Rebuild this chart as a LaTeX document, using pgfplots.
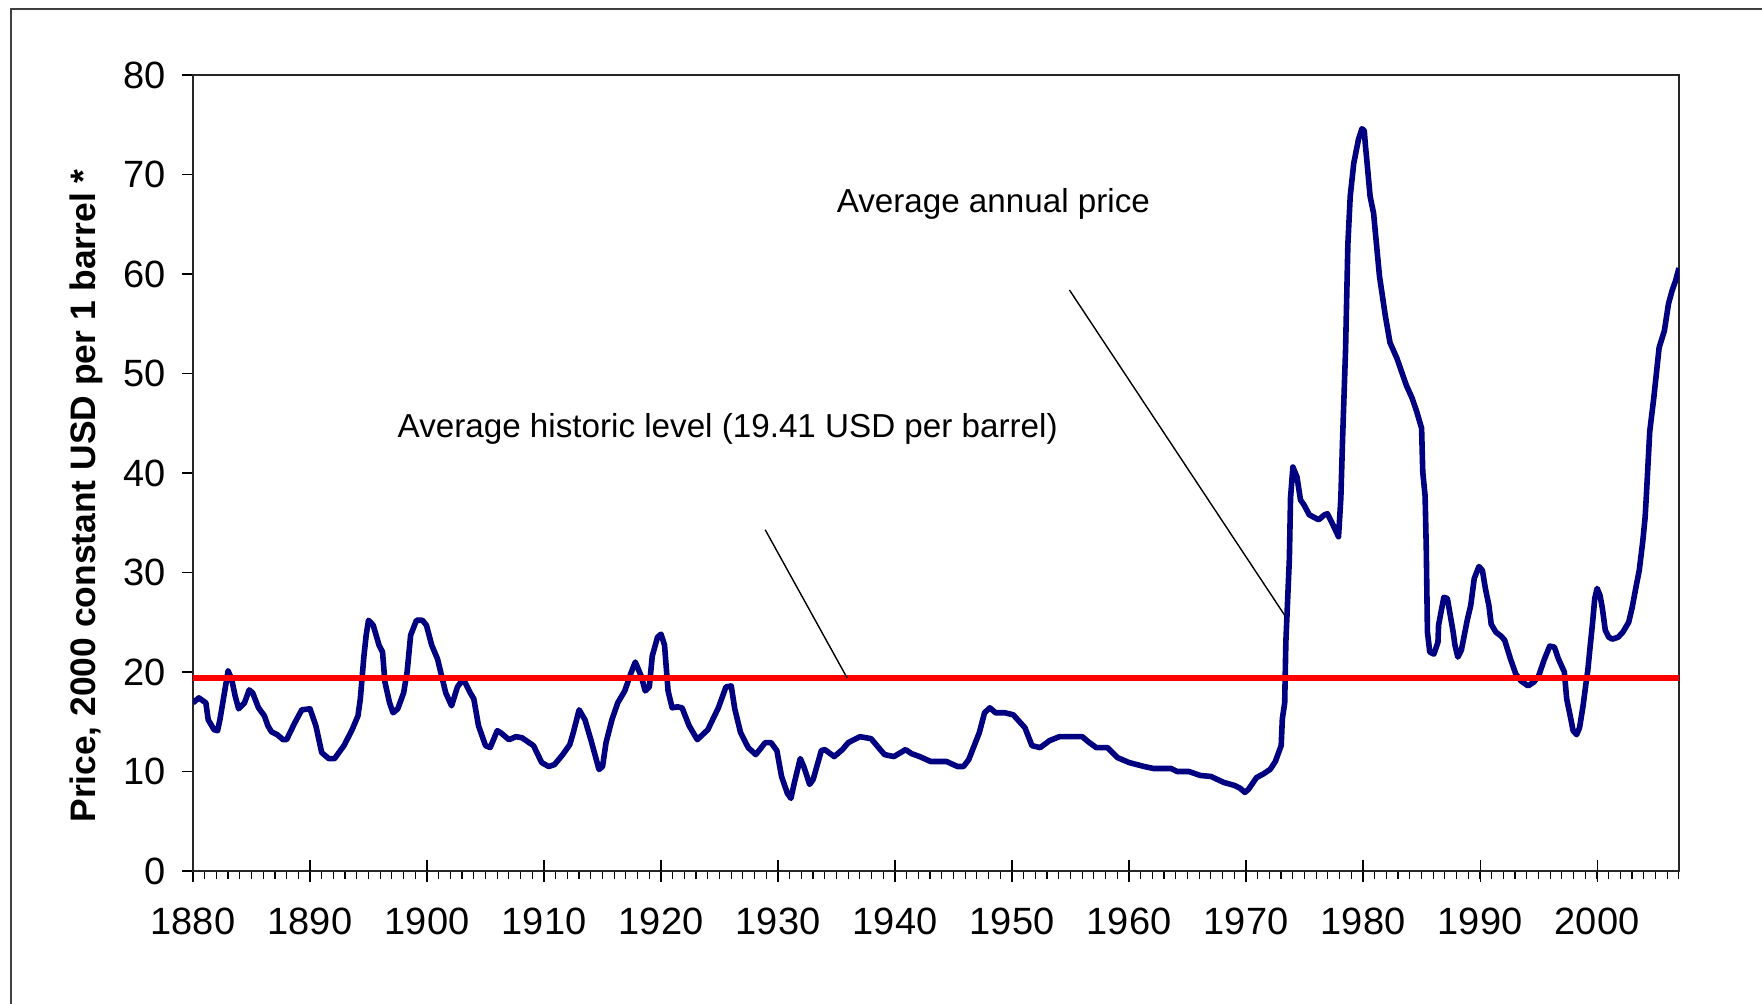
\documentclass[border=0pt]{standalone}
\usepackage{pgfplots}
\pgfplotsset{compat=1.18}
\usepackage{fontspec}
\setmainfont{Liberation Sans}
\definecolor{navyline}{RGB}{0,0,128}
\begin{document}
\begin{tikzpicture}
\useasboundingbox (0pt,0pt) rectangle (881pt,-502pt);
\draw[line width=1pt, black!75] (5.5pt,-505pt) -- (5.5pt,-4.5pt) -- (885pt,-4.5pt);
\begin{axis}[
  at={(96.5pt,-435.5pt)}, anchor=south west,
  width=743pt, height=398pt, scale only axis,
  xmin=1880, xmax=2007, ymin=0, ymax=80,
  xtick={1880,1890,...,2000},
  minor xtick={1881,1882,...,2007},
  ytick={0,10,...,80},
  xtick pos=bottom, ytick pos=left,
  tick align=outside,
  major tick length=5.5pt, minor tick length=4pt,
  extra x ticks={1890,1900,...,2000},
  extra x tick labels={},
  extra x tick style={tick align=inside, major tick length=5.5pt},
  tick style={black, line width=0.6pt},
  axis line style={black!85, line width=0.6pt},
  /pgf/number format/assume math mode=true,
  xticklabel={\pgfmathprintnumber[1000 sep={}]{\tick}},
  ticklabel style={font=\fontsize{19}{22}\selectfont},
  xticklabel style={yshift=-9.5pt},
  yticklabel style={xshift=-4.5pt},
]
\addplot[navyline, line width=2.8pt, line join=round] table {
x y
1880.0 16.9
1880.5 17.4
1881.1 16.9
1881.3 15.2
1881.8 14.2
1882.1 14.1
1882.3 15.2
1882.6 17.3
1883.0 20.1
1883.3 19.3
1883.6 17.6
1883.9 16.3
1884.4 16.9
1884.8 18.2
1885.1 17.9
1885.6 16.4
1886.1 15.6
1886.4 14.6
1886.7 14.0
1887.2 13.7
1887.7 13.2
1888.0 13.2
1888.7 14.9
1889.3 16.2
1890.0 16.3
1890.5 14.6
1891.0 11.9
1891.6 11.3
1892.1 11.3
1892.9 12.6
1893.6 14.2
1894.1 15.6
1894.3 17.3
1894.6 21.5
1894.8 23.7
1895.0 25.2
1895.4 24.7
1895.9 22.7
1896.2 22.0
1896.4 19.0
1896.8 16.9
1897.1 15.9
1897.5 16.3
1898.0 17.9
1898.3 20.0
1898.6 23.7
1899.1 25.2
1899.6 25.2
1899.95 24.7
1900.4 22.7
1900.9 21.3
1901.6 17.9
1902.1 16.6
1902.6 18.5
1903.1 19.3
1903.7 17.9
1904.0 17.3
1904.4 14.6
1905.0 12.6
1905.4 12.4
1906.0 14.1
1906.3 13.9
1907.0 13.2
1907.6 13.5
1908.1 13.4
1909.1 12.6
1909.8 10.9
1910.4 10.5
1910.9 10.7
1911.6 11.7
1912.2 12.7
1912.5 13.9
1913.0 16.2
1913.5 15.2
1914.0 13.2
1914.7 10.2
1915.0 10.5
1915.3 12.9
1915.8 15.2
1916.3 16.9
1916.9 18.1
1917.4 19.8
1917.8 21.0
1918.3 19.6
1918.65 18.1
1919.0 18.5
1919.25 21.6
1919.7 23.5
1920.0 23.8
1920.3 22.7
1920.6 18.1
1920.95 16.4
1921.4 16.5
1921.8 16.4
1922.4 14.6
1923.1 13.2
1924.0 14.2
1924.9 16.4
1925.55 18.5
1926.0 18.6
1926.3 16.3
1926.8 13.9
1927.45 12.4
1928.1 11.7
1928.9 12.9
1929.4 12.9
1929.9 12.1
1930.3 9.5
1930.8 7.8
1931.1 7.3
1931.4 8.9
1931.9 11.3
1932.2 10.5
1932.7 8.7
1933.0 9.2
1933.7 12.1
1934.0 12.2
1934.8 11.5
1935.5 12.2
1936.0 12.9
1937.0 13.5
1937.95 13.3
1938.45 12.6
1939.1 11.7
1939.9 11.5
1940.9 12.2
1941.4 11.8
1942.1 11.5
1943.05 11.0
1944.4 11.0
1945.35 10.5
1945.85 10.5
1946.3 11.2
1947.2 13.9
1947.65 15.9
1948.1 16.4
1948.6 15.9
1949.4 15.9
1950.1 15.7
1951.1 14.4
1951.7 12.6
1952.4 12.4
1953.2 13.1
1954.05 13.5
1956.0 13.5
1956.5 13.0
1957.2 12.4
1958.15 12.4
1959.0 11.4
1960.0 10.9
1961.3 10.5
1962.1 10.3
1963.6 10.3
1964.1 10.0
1965.1 10.0
1966.1 9.6
1967.0 9.5
1968.1 8.9
1969.0 8.6
1969.45 8.35
1969.9 7.9
1970.2 8.2
1970.9 9.4
1971.4 9.7
1972.05 10.2
1972.5 11.0
1973.0 12.6
1973.1 15.3
1973.3 16.9
1973.4 23.0
1973.7 31.4
1973.8 37.5
1974.0 40.6
1974.35 39.6
1974.65 37.3
1974.95 36.8
1975.4 35.8
1976.2 35.3
1976.7 35.8
1976.95 35.9
1977.3 35.1
1977.7 34.1
1977.9 33.6
1978.0 35.5
1978.1 37.5
1978.25 43.5
1978.5 52.3
1978.7 63.0
1978.9 67.8
1979.2 71.1
1979.6 73.5
1979.9 74.6
1980.1 74.4
1980.2 72.9
1980.3 71.7
1980.6 67.8
1980.9 66.1
1981.0 64.8
1981.4 59.8
1981.9 55.8
1982.3 53.1
1982.9 51.5
1983.7 48.8
1984.2 47.5
1984.6 46.1
1985.0 44.5
1985.1 40.1
1985.3 37.7
1985.4 32.4
1985.5 24.0
1985.7 22.0
1986.05 21.8
1986.4 23.0
1986.45 24.7
1986.9 27.5
1987.2 27.4
1987.45 25.7
1987.7 24.0
1987.85 22.7
1988.1 21.5
1988.4 22.2
1988.9 25.2
1989.2 26.7
1989.5 29.4
1989.9 30.6
1990.2 30.2
1990.45 28.4
1990.75 26.7
1990.95 24.8
1991.35 24.0
1991.8 23.6
1992.1 23.2
1992.6 21.3
1993.05 19.8
1993.5 19.1
1994.1 18.6
1994.6 19.0
1995.0 19.6
1995.5 21.3
1995.95 22.6
1996.35 22.5
1996.7 21.3
1997.2 20.0
1997.4 17.3
1997.7 15.6
1997.95 14.1
1998.25 13.7
1998.5 14.4
1998.8 16.6
1999.1 19.3
1999.2 20.1
1999.4 22.5
1999.6 24.8
1999.8 27.4
2000.0 28.4
2000.25 27.7
2000.45 26.4
2000.7 24.2
2001.0 23.5
2001.3 23.3
2001.8 23.5
2002.2 24.0
2002.7 25.0
2003.0 26.5
2003.3 28.4
2003.6 30.2
2003.9 33.1
2004.1 35.5
2004.2 37.5
2004.5 44.2
2004.85 47.6
2005.3 52.6
2005.75 54.3
2006.1 57.0
2006.4 58.3
2006.7 59.3
2007.0 60.6
};
\addplot[red, line width=2.8pt] coordinates {(1880,19.41) (2007,19.41)};
\draw[black, line width=0.7pt] (axis cs:1954.9,58.4) -- (axis cs:1973.3,25.7);
\draw[black, line width=0.7pt] (axis cs:1928.9,34.3) -- (axis cs:1935.9,19.41);
\node[font=\fontsize{16.6}{19}\selectfont] at (axis cs:1948.4,67.0) {Average annual price};
\node[font=\fontsize{16.6}{19}\selectfont] at (axis cs:1925.7,44.4) {Average historic level (19.41 USD per barrel)};
\end{axis}
\node[rotate=90, font=\fontsize{17.7}{20}\selectfont\bfseries] at (43.25pt,-248pt) {Price, 2000 constant USD per 1 barrel *};
\end{tikzpicture}
\end{document}
